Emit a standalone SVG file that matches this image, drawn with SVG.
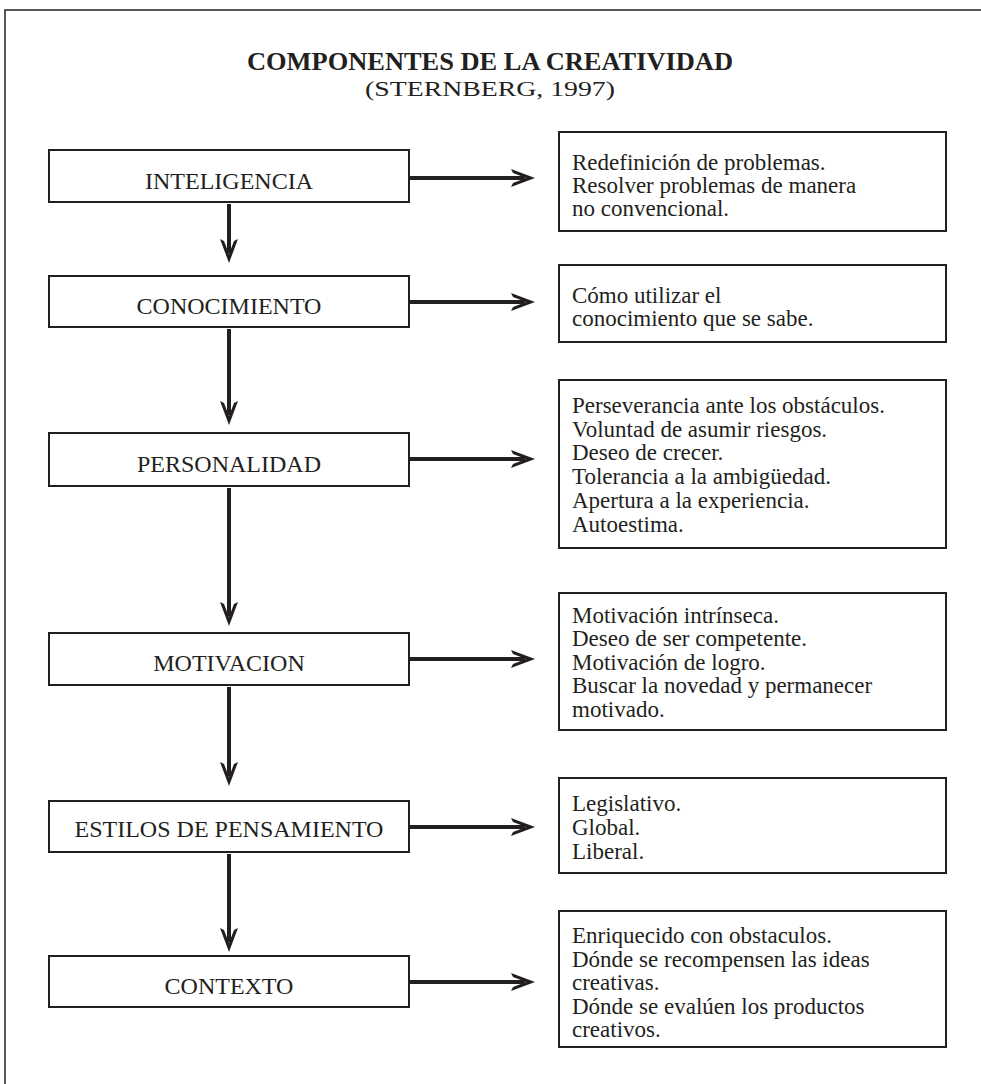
<svg xmlns="http://www.w3.org/2000/svg" width="981" height="1084" viewBox="0 0 981 1084">
<style>
.frame{stroke:#231f20;stroke-width:1.5;fill:none}
.box{fill:#fff;stroke:#231f20;stroke-width:2}
.title{font-family:"Liberation Serif","Times New Roman",serif;font-weight:bold;font-size:25px;fill:#231f20;text-anchor:middle}
.sub{font-family:"Liberation Serif","Times New Roman",serif;font-size:22px;fill:#231f20;text-anchor:middle}
.lbl{font-family:"Liberation Serif","Times New Roman",serif;font-size:24px;fill:#231f20;text-anchor:middle}
.txt{font-family:"Liberation Serif","Times New Roman",serif;font-size:23px;fill:#231f20}
.conn{stroke:#231f20;stroke-width:4;fill:none;marker-end:url(#ah)}
</style>
<defs>
<marker id="ah" markerUnits="userSpaceOnUse" markerWidth="26" markerHeight="20" viewBox="0 0 26 20" refX="14" refY="10" orient="auto">
<path d="M0,1 L24,10 L0,19 L2,15 L15,10 L2,5 Z" fill="#231f20"/>
</marker>
</defs>
<g id="frame">
<path class="frame" d="M5,1084 V10 H981"/>
</g>
<g id="title">
<text class="title" x="490" y="70" textLength="486" lengthAdjust="spacingAndGlyphs">COMPONENTES DE LA CREATIVIDAD</text>
<text class="sub" x="490" y="95.5" textLength="250" lengthAdjust="spacingAndGlyphs">(STERNBERG, 1997)</text>
</g>
<g id="connectors">
<path class="conn" d="M410,178 H525"/>
<path class="conn" d="M410,302 H525"/>
<path class="conn" d="M410,459 H525"/>
<path class="conn" d="M410,659 H525"/>
<path class="conn" d="M410,827 H525"/>
<path class="conn" d="M410,982 H525"/>
<path class="conn" d="M229,204 V253"/>
<path class="conn" d="M229,329 V415"/>
<path class="conn" d="M229,488 V616"/>
<path class="conn" d="M229,687 V776"/>
<path class="conn" d="M229,854 V942"/>
</g>
<g id="inteligencia">
<rect class="box" x="49" y="150" width="360" height="52"/>
<text class="lbl" x="229" y="189">INTELIGENCIA</text>
</g>
<g id="conocimiento">
<rect class="box" x="49" y="276" width="360" height="51"/>
<text class="lbl" x="229" y="314">CONOCIMIENTO</text>
</g>
<g id="personalidad">
<rect class="box" x="49" y="433" width="360" height="53"/>
<text class="lbl" x="229" y="472">PERSONALIDAD</text>
</g>
<g id="motivacion">
<rect class="box" x="49" y="633" width="360" height="52"/>
<text class="lbl" x="229" y="671">MOTIVACION</text>
</g>
<g id="estilos">
<rect class="box" x="49" y="801" width="360" height="51"/>
<text class="lbl" x="229" y="837">ESTILOS DE PENSAMIENTO</text>
</g>
<g id="contexto">
<rect class="box" x="49" y="956" width="360" height="51"/>
<text class="lbl" x="229" y="994">CONTEXTO</text>
</g>
<g id="desc-inteligencia">
<rect class="box" x="559" y="132" width="387" height="99"/>
<text class="txt" x="572" y="170">Redefinición de problemas.</text>
<text class="txt" x="572" y="193">Resolver problemas de manera</text>
<text class="txt" x="572" y="216">no convencional.</text>
</g>
<g id="desc-conocimiento">
<rect class="box" x="559" y="265" width="387" height="77"/>
<text class="txt" x="572" y="303">Cómo utilizar el</text>
<text class="txt" x="572" y="326">conocimiento que se sabe.</text>
</g>
<g id="desc-personalidad">
<rect class="box" x="559" y="380" width="387" height="168"/>
<text class="txt" x="572" y="413">Perseverancia ante los obstáculos.</text>
<text class="txt" x="572" y="437">Voluntad de asumir riesgos.</text>
<text class="txt" x="572" y="460">Deseo de crecer.</text>
<text class="txt" x="572" y="484">Tolerancia a la ambigüedad.</text>
<text class="txt" x="572" y="508">Apertura a la experiencia.</text>
<text class="txt" x="572" y="532">Autoestima.</text>
</g>
<g id="desc-motivacion">
<rect class="box" x="559" y="593" width="387" height="137"/>
<text class="txt" x="572" y="623">Motivación intrínseca.</text>
<text class="txt" x="572" y="646">Deseo de ser competente.</text>
<text class="txt" x="572" y="670">Motivación de logro.</text>
<text class="txt" x="572" y="693">Buscar la novedad y permanecer</text>
<text class="txt" x="572" y="717">motivado.</text>
</g>
<g id="desc-estilos">
<rect class="box" x="559" y="778" width="387" height="95"/>
<text class="txt" x="572" y="811">Legislativo.</text>
<text class="txt" x="572" y="835">Global.</text>
<text class="txt" x="572" y="859">Liberal.</text>
</g>
<g id="desc-contexto">
<rect class="box" x="559" y="911" width="387" height="136"/>
<text class="txt" x="572" y="943">Enriquecido con obstaculos.</text>
<text class="txt" x="572" y="967">Dónde se recompensen las ideas</text>
<text class="txt" x="572" y="990">creativas.</text>
<text class="txt" x="572" y="1014">Dónde se evalúen los productos</text>
<text class="txt" x="572" y="1037">creativos.</text>
</g>
</svg>
